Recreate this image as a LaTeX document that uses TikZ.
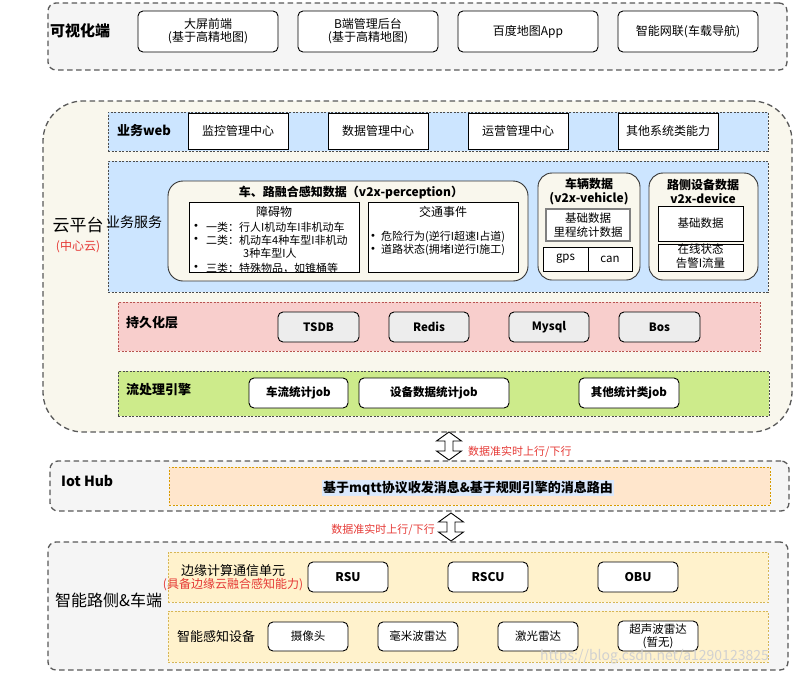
\documentclass[tikz,border=0pt]{standalone}
\usepackage{fontspec}
\setmainfont{Noto Sans CJK SC}
\newfontfamily\dvs{DejaVu Sans}
\usetikzlibrary{fit}
\definecolor{grayF}{HTML}{F5F5F5}
\definecolor{creamF}{HTML}{F9F7ED}
\definecolor{blueF}{HTML}{CCE5FF}
\definecolor{pinkF}{HTML}{F8CECC}
\definecolor{pinkD}{HTML}{B85450}
\definecolor{greenF}{HTML}{CDEB8B}
\definecolor{orangeF}{HTML}{FFE6CC}
\definecolor{orangeD}{HTML}{D79B00}
\definecolor{yellowF}{HTML}{FFF2CC}
\definecolor{yellowD}{HTML}{D6B656}
\definecolor{hlF}{HTML}{DAE8FC}
\definecolor{redT}{HTML}{E53935}
\newcommand\fsz[2]{\fontsize{#1}{#2}\selectfont}
\newcommand\bul{{\dvs\fsz{10}{12}•}}
\tikzset{
 grp/.style={draw=black!65, line width=1.3pt, dash pattern=on 5.5pt off 3.5pt, fill=grayF, rounded corners=8pt, inner sep=0pt},
 lrow/.style={line width=0.6pt, dash pattern=on 2pt off 1.5pt, inner sep=0pt},
 rbox/.style={draw=black, line width=0.9pt, fill=white, rounded corners=5pt, inner sep=0pt},
 sbox/.style={draw=black, line width=0.9pt, fill=white, inner sep=0pt},
 dbox/.style={draw=black, line width=0.9pt, fill=black!7, rounded corners=5pt, inner sep=0pt},
 cbox/.style={draw=black!80, line width=0.9pt, fill=creamF, inner sep=0pt},
 t/.style={inner sep=0pt, align=center, font=\fsz{12}{13}},
 tb/.style={inner sep=0pt, align=center, font=\fsz{11.5}{13}\bfseries},
 lbl/.style={inner sep=0pt, anchor=west},
 txt/.style={inner sep=0pt, font=\fsz{11}{13}},
 darr/.style={draw=black, line width=0.9pt, fill=white, line join=miter},
}
\begin{document}
\begin{tikzpicture}[x=1pt,y=-1pt]
\useasboundingbox (0,0) rectangle (795,672);
% ---------- group 1
\node[grp, fit={(48,3) (787,70)}] (g1) {};
\node[lbl, font=\fsz{15}{17}\bfseries] (g1l) at (50,31) {可视化端};
\node[rbox, fit={(138,11) (278,52)}] (v1) {};
\node[t] (v1t) at (v1) {大屏前端\\(基于高精地图)};
\node[rbox, fit={(298,11) (438,52)}] (v2) {};
\node[t] (v2t) at (v2) {B端管理后台\\(基于高精地图)};
\node[rbox, fit={(458,11) (598,52)}] (v3) {};
\node[t] (v3t) at (v3) {百度地图App};
\node[rbox, fit={(618,11) (758,52)}] (v4) {};
\node[t] (v4t) at (v4) {智能网联(车载导航)};
% ---------- group 2 cloud
\node[grp, fill=creamF, rounded corners=40pt, fit={(43,101) (792,432)}] (g2) {};
\node[inner sep=0pt, font=\fsz{17}{19}] (g2l) at (78,225) {云平台};
\node[inner sep=0pt, font=\fsz{12}{14}, text=redT] (g2s) at (78,247) {(中心云)};
% web row
\node[lrow, draw=black!70, fill=blueF, fit={(108,112) (768,151)}] (web) {};
\node[lbl, font=\fsz{13}{15}\bfseries] (webl) at (117,131) {业务web};
\node[sbox, fit={(188,113) (288,149)}] (w1) {};
\node[t] (w1t) at (w1) {监控管理中心};
\node[sbox, fit={(328,113) (428,149)}] (w2) {};
\node[t] (w2t) at (w2) {数据管理中心};
\node[sbox, fit={(468,113) (568,149)}] (w3) {};
\node[t] (w3t) at (w3) {运营管理中心};
\node[sbox, fit={(618,113) (718,149)}] (w4) {};
\node[t] (w4t) at (w4) {其他系统类能力};
% service row
\node[lrow, draw=black!70, fill=blueF, fit={(108,161) (768,292)}] (svc) {};
\node[lbl, font=\fsz{14}{16}] (svcl) at (106,222) {业务服务};
% perception
\node[cbox, rounded corners=15pt, fit={(168,181) (528,281)}] (per) {};
\node[txt, font=\fsz{12}{14}\bfseries] (pert) at (351,193) {车、路融合感知数据（v2x-perception）};
\node[sbox, fit={(189,202) (359,272)}] (obs) {};
\node[txt, font=\fsz{12}{14}] (obst) at (274,212) {障碍物};
\node[txt] (ob1b) at (196,227) {\bul};
\node[txt, anchor=west] (ob1) at (206,227) {一类：行人I机动车I非机动车};
\node[txt] (ob2b) at (196,240) {\bul};
\node[txt, anchor=west] (ob2) at (206,240) {二类：机动车4种车型I非机动};
\node[txt, anchor=west] (ob3) at (243,253) {3种车型I人};
\node[txt] (ob4b) at (196,268) {\bul};
\node[txt, anchor=west] (ob4) at (206,268) {三类：特殊物品，如锥桶等};
\node[sbox, fit={(368,202) (518,272)}] (evt) {};
\node[txt, font=\fsz{12}{14}] (evtt) at (443,212) {交通事件};
\node[txt] (ev1b) at (373,237) {\bul};
\node[txt, anchor=west] (ev1) at (381,237) {危险行为(逆行I超速I占道)};
\node[txt] (ev2b) at (373,250) {\bul};
\node[txt, anchor=west] (ev2) at (381,250) {道路状态(拥堵I逆行I施工)};
% vehicle
\node[cbox, rounded corners=14pt, fit={(538,173) (640,280)}] (veh) {};
\node[txt, font=\fsz{12}{13.5}\bfseries, align=center] (veht) at (589,191.5) {车辆数据\\(v2x-vehicle)};
\node[draw=black!50, line width=1.8pt, fill=white, inner sep=0pt, fit={(546,209) (630,241)}] (vb) {};
\node[t, font=\fsz{11.5}{14}] (vbt) at (vb) {基础数据\\里程统计数据};
\node[sbox, fit={(543,247) (588,271)}] (gps) {};
\node[t, font=\fsz{11.5}{14}] (gpst) at (gps) {gps};
\node[sbox, fit={(588,247) (632,271)}] (can) {};
\node[t, font=\fsz{11.5}{14}] (cant) at (can) {can};
% device
\node[cbox, rounded corners=14pt, fit={(649,173) (758,280)}] (dev) {};
\node[txt, font=\fsz{12}{13.5}\bfseries, align=center] (devt) at (703,191.5) {路侧设备数据\\v2x-device};
\node[sbox, fit={(658,206) (743,241)}] (db) {};
\node[t, font=\fsz{11.5}{14}] (dbt) at (db) {基础数据};
\node[sbox, fit={(658,244) (743,271)}] (ds) {};
\node[t, font=\fsz{11.5}{13.5}] (dst) at ([yshift=1.5pt]ds.center) {在线状态\\告警I流量};
% persistence
\node[lrow, draw=pinkD, fill=pinkF, fit={(118,302) (760,351)}] (pst) {};
\node[lbl, font=\fsz{13}{15}\bfseries] (pstl) at (126,323) {持久化层};
\node[dbox, fit={(278,312) (359,342)}] (p1) {};
\node[tb] (p1t) at (p1) {TSDB};
\node[dbox, fit={(389,312) (469,342)}] (p2) {};
\node[tb] (p2t) at (p2) {Redis};
\node[dbox, fit={(509,312) (589,342)}] (p3) {};
\node[tb] (p3t) at (p3) {Mysql};
\node[dbox, fit={(619,312) (700,342)}] (p4) {};
\node[tb] (p4t) at (p4) {Bos};
% stream
\node[lrow, draw=black!70, fill=greenF, fit={(118,371) (769,416)}] (str) {};
\node[lbl, font=\fsz{13}{15}\bfseries] (strl) at (126,390) {流处理引擎};
\node[rbox, fit={(249,378) (348,408)}] (j1) {};
\node[tb] (j1t) at (j1) {车流统计job};
\node[rbox, fit={(359,378) (509,408)}] (j2) {};
\node[tb] (j2t) at (j2) {设备数据统计job};
\node[rbox, fit={(579,378) (679,408)}] (j3) {};
\node[tb] (j3t) at (j3) {其他统计类job};
% arrow 1 (between cloud and hub)
\coordinate (a1) at (449,446);
\draw[darr, shift={(a1)}] (0,-14) -- (12.5,-5) -- (4,-5) -- (4,5) -- (12.5,5) -- (0,14) -- (-12.5,5) -- (-4,5) -- (-4,-5) -- (-12.5,-5) -- cycle;
\node[lbl, font=\fsz{11}{13}, text=redT] (a1l) at (468,452) {数据准实时上行/下行};
% ---------- IoT hub
\node[grp, fit={(50,461) (789,511)}] (g3) {};
\node[lbl, font=\fsz{14}{16}\bfseries] (g3l) at (61,481) {Iot Hub};
\node[lrow, draw=orangeD, fill=orangeF, fit={(169,467) (770,505)}] (hub) {};
\node[inner sep=1pt, fill=hlF, font=\fsz{13}{15}\bfseries] (hubt) at (468,488) {基于mqtt协议收发消息\&基于规则引擎的消息路由};
% arrow 2 (between hub and edge)
\coordinate (a2) at (451,527);
\draw[darr, shift={(a2)}] (0,-14) -- (12.5,-5) -- (4,-5) -- (4,5) -- (12.5,5) -- (0,14) -- (-12.5,5) -- (-4,5) -- (-4,-5) -- (-12.5,-5) -- cycle;
\node[font=\fsz{11}{13}, text=redT, inner sep=0pt, anchor=east] (a2l) at (435,530) {数据准实时上行/下行};
% ---------- edge group
\node[grp, fit={(48,542) (788,670)}] (g4) {};
\node[lbl, font=\fsz{16}{18}] (g4l) at (55,600) {智能路侧\&车端};
\node[lrow, draw=yellowD, fill=yellowF, fit={(168,552) (768,602)}] (edge) {};
\node[txt, font=\fsz{13}{15}] (edgel) at (233,571) {边缘计算通信单元};
\node[txt, font=\fsz{12}{14}, text=redT] (edges) at (233,585) {(具备边缘云融合感知能力)};
\node[rbox, fit={(308,562) (388,592)}] (e1) {};
\node[tb, font=\fsz{12}{14}\bfseries] (e1t) at (e1) {RSU};
\node[rbox, fit={(448,562) (528,592)}] (e2) {};
\node[tb, font=\fsz{12}{14}\bfseries] (e2t) at (e2) {RSCU};
\node[rbox, fit={(598,562) (678,592)}] (e3) {};
\node[tb, font=\fsz{12}{14}\bfseries] (e3t) at (e3) {OBU};
\node[lrow, draw=yellowD, fill=yellowF, fit={(168,611) (768,662)}] (sens) {};
\node[lbl, font=\fsz{13}{15}] (sensl) at (177,637) {智能感知设备};
\node[rbox, fit={(268,622) (348,651)}] (s1) {};
\node[t, font=\fsz{11.5}{14}] (s1t) at (s1) {摄像头};
\node[rbox, fit={(378,622) (458,651)}] (s2) {};
\node[t, font=\fsz{11.5}{14}] (s2t) at (s2) {毫米波雷达};
\node[rbox, fit={(498,622) (578,651)}] (s3) {};
\node[t, font=\fsz{11.5}{14}] (s3t) at (s3) {激光雷达};
\node[rbox, fit={(618,621) (698,651)}] (s4) {};
\node[t, font=\fsz{11.5}{13}] (s4t) at (s4) {超声波雷达\\(暂无)};
\node[lbl, font=\fsz{14}{16}, text=black!18] (wm) at (540,657) {https://blog.csdn.net/a1290123825};
\end{tikzpicture}
\end{document}
